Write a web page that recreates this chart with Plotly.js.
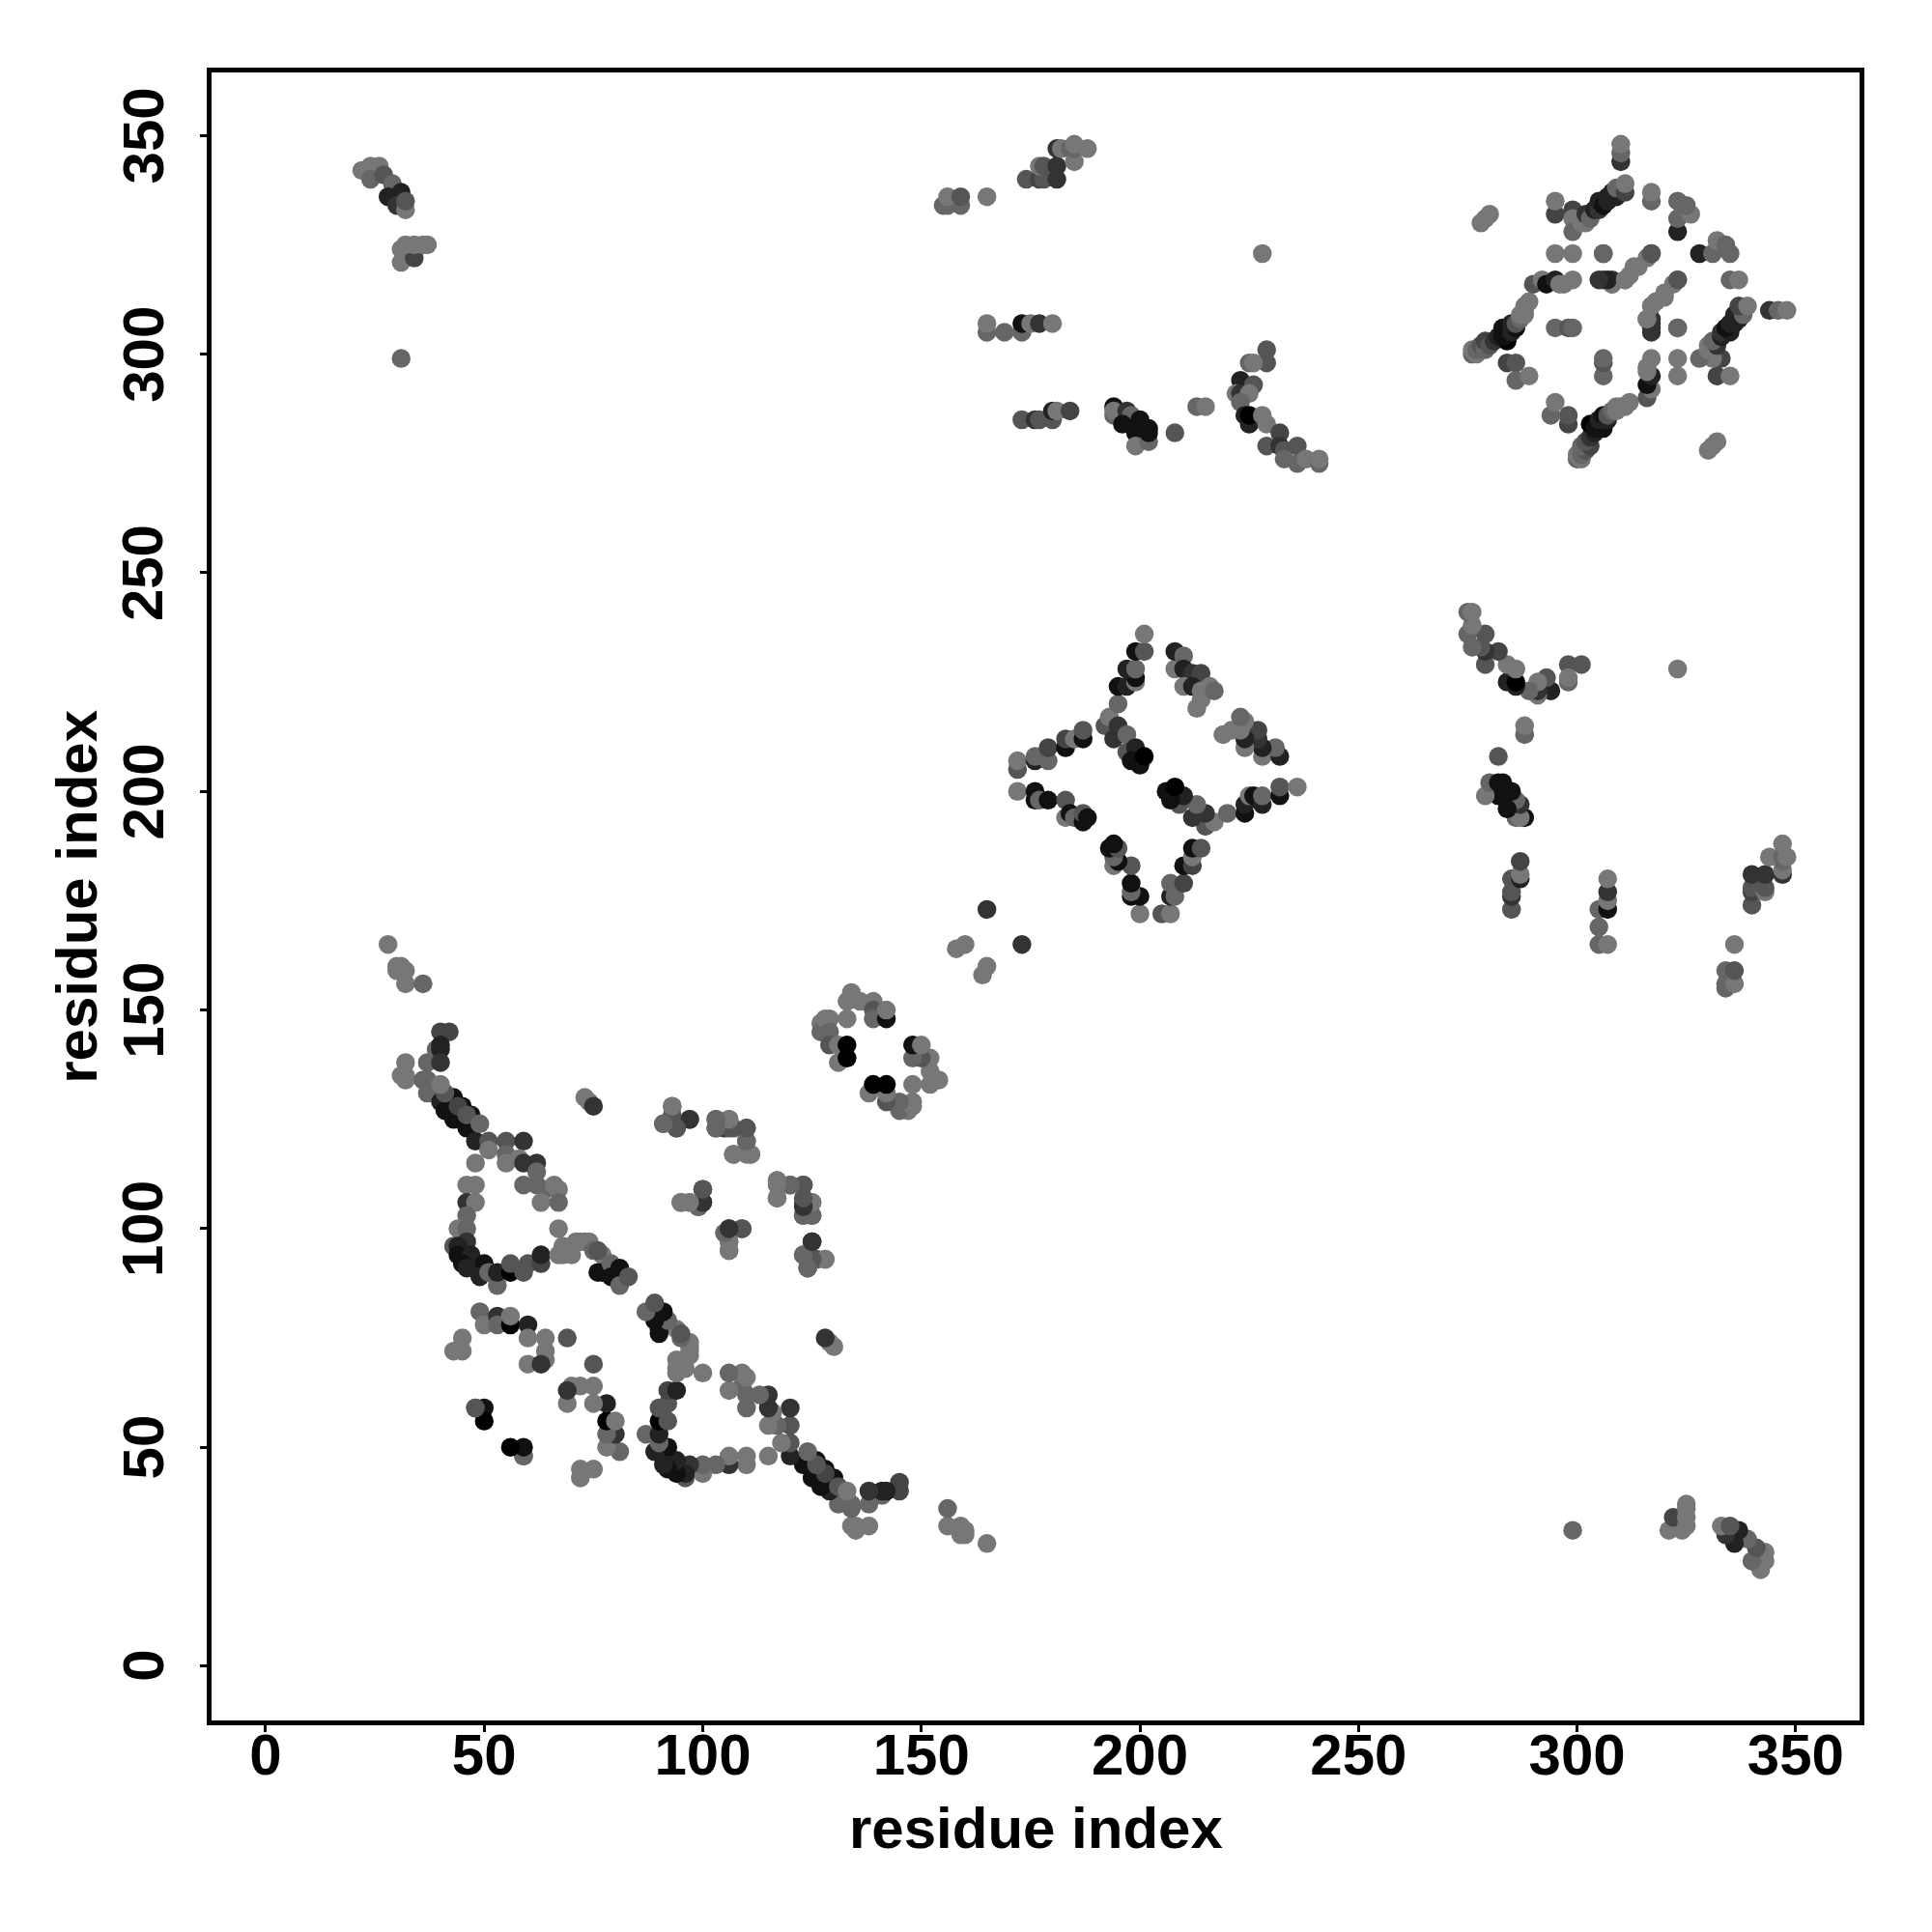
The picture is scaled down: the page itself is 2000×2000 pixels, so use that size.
<!DOCTYPE html>
<html><head><meta charset="utf-8">
<script src="https://cdn.plot.ly/plotly-3.0.1.min.js"></script>
<style>html,body{margin:0;padding:0;background:#fff}</style></head>
<body><div id="chart" style="width:2000px;height:2000px"></div>
<script>
// contacts as [residue i, residue j, grey shade]; the map is symmetric in i and j
const chainUpperA = [
[32,138,119],[32,135,119],[31,135,119],[32,134,119],[37,138,102],[36,134,102],[37,134,102],[37,131,102],
[39,141,102],[40,145,68],[42,145,68],[40,142,34],[40,141,34],[40,138,51],
[40,129,34],[41,127,17],[43,130,17],[43,125,17],[45,128,17],[46,123,17],[47,126,17],[48,120,34],
[41,131,85],[40,133,119],[44,128,68],[46,126,85],[49,124,102],[51,120,85],[51,118,119],[48,115,119],
[55,120,85],[55,117,102],[55,115,119],[59,120,51],[58,116,119],[59,115,51],[62,115,51],[62,113,102]
];
const clusterUpperB = [
[46,110,119],[48,110,119],[59,110,102],[62,110,102],[64,109,102],[66,110,119],[67,109,119],[63,106,119],[67,106,102],
[46,106,51],[48,106,119],[46,103,102],[44,100,119],[46,100,102],[67,100,119]
];
const loopUpperC = [
[43,96,85],[46,97,51],[44,96,34],[44,94,17],[47,94,34],[45,92,17],[46,91,34],[50,92,17],[49,89,34],[51,90,102],
[53,87,102],[53,90,34],[56,90,0],[56,92,85],[59,90,85],[60,92,85],[63,92,68],[63,94,34],
[67,94,119],[68,94,119],[69,95,119],[68,96,119],[70,94,119],[71,97,119],[72,97,119],[73,97,119],[74,97,119],
[75,95,102],[77,94,119],[76,95,85],[76,90,17],[77,90,17],[79,92,102],[79,89,17],[81,91,17],[81,89,17],[81,87,102],[83,89,85]
];
const clusterUpperD = [
[49,81,102],[50,78,119],[53,80,51],[53,78,102],[56,78,0],[56,80,119],[60,78,34],[60,75,119],[64,75,119],[69,75,85],
[45,75,119],[45,72,119],[43,72,119],[64,72,119],[64,70,119],[60,69,119],[63,69,51],[48,59,102],[50,59,17],[50,56,0],[59,48,85]
];
const scatterUpperE = [
[73,130,119],[74,129,119],[75,128,51],[93,128,119],[93,125,85],[91,124,102],[94,123,102],[97,125,51],
[103,125,102],[103,123,102],[106,125,119],[105,123,51],[107,123,85],[110,123,85],[110,120,102],[107,117,119],[110,117,119],[111,117,119],
[100,109,85],[95,106,119],[97,106,119],[99,105,102],[100,106,51],[105,99,102],[106,100,51],[109,100,85],[106,97,119],[106,95,119],
[117,111,119],[117,107,119],[120,110,102],[123,110,85],[123,106,85],[125,106,119],[123,103,102],[125,103,102],
[125,97,51],[123,94,85],[126,93,85],[128,93,119],[124,91,102]
];
const ringF = [
[127,147,119],[127,145,102],[128,145,102],[128,148,119],[129,148,119],[129,145,102],[129,142,85],[131,142,119],[133,142,0],[131,138,119],[133,139,0],
[133,148,119],[133,152,119],[134,154,119],[136,152,119],[139,152,119],[139,150,85],[139,148,102],[142,148,17],[142,150,119],
[28,165,119],[30,159,119],[30,160,119],[32,159,119],[31,160,119],[32,156,119],[36,156,102],[158,164,119],[160,165,119],[165,173,51]
];
const diamondG = [
[172,205,85],[172,207,119],[176,207,34],[176,208,102],[179,207,102],[179,210,68],[183,210,17],[183,212,68],[185,212,119],[187,212,17],[187,214,85],
[172,200,119],[176,198,17],[176,200,17],[177,198,102],[179,198,17],[183,194,119],[183,198,85],[184,195,17],[185,194,102],[187,193,17],[187,195,85],[188,194,17],
[192,215,85],[193,217,119],[195,215,51],[194,212,51],[197,213,102],[197,209,85],[199,210,34],[198,207,17],[200,206,17],[201,208,0],
[195,220,102],[195,224,17],[197,224,34],[199,225,119],[199,226,17],[197,228,34],[199,228,102],[199,232,17],[201,232,85],[201,236,119],
[208,228,119],[208,232,34],[210,231,102],[210,228,34],[212,227,51],[214,227,68],[210,224,119],[212,224,34],[213,219,119],[214,221,119],[214,223,119],[216,224,119],[217,223,102]
];
const bridgeH = [
[174,340,85],[177,340,68],[178,340,85],[181,340,51],[177,343,119],[178,343,85],[181,343,51],[181,347,51],[182,347,119],[184,347,102],[185,344,119],[185,347,102],[185,348,119],[188,347,119],
[155,334,102],[156,334,102],[159,334,102],[156,336,119],[159,336,85],[165,336,119],[228,323,119],
[165,305,102],[165,307,119],[169,305,102],[173,305,102],[173,307,17],[175,307,119],[177,307,51],[180,307,119],
[173,285,85],[176,285,51],[177,285,85],[180,285,85],[180,287,34],[181,287,119],[184,287,68],
[194,286,102],[194,288,17],[194,287,119],[197,287,51],[198,286,102],[196,284,17],[200,285,17],[199,282,17],[199,279,119],[202,280,102],[202,283,17],[202,282,17],
[208,282,85],[213,288,102],[215,288,119],
[229,301,85],[229,298,85],[225,298,102],[226,298,119],[223,294,34],[226,293,85],[222,291,119],[223,291,51],[225,291,119],[223,289,102],
[224,286,34],[225,284,34],[225,286,0],[228,286,119],[229,284,119],[232,282,68],[229,279,85],[232,279,51],[233,278,85],[233,276,102],[236,279,85],[236,275,102],[238,276,119],[241,275,102],[241,276,119]
];
const diamondJ = [
[276,300,102],[276,301,119],[277,300,119],[277,301,102],[278,302,85],[279,301,102],[279,303,68],[280,302,85],[281,303,51],[282,304,34],[284,303,0],[283,304,17],[283,306,17],[284,305,17],[285,305,34],[286,306,17],[285,307,34],[286,307,85],[287,308,102],[287,309,119],[288,309,119],[288,310,119],[288,311,119],[289,312,119],
[284,298,68],[286,298,85],[286,294,102],[289,295,119],[295,306,102],[298,306,85],[299,306,102],
[290,316,85],[292,317,119],[293,316,17],[295,317,34],[296,316,119],[297,316,119],[299,317,119],
[278,330,119],[279,331,119],[280,332,119],[295,323,119],[299,323,119],[306,323,102],[306,317,51],[308,317,51],[308,316,119],
[311,317,119],[313,320,119],[316,322,119],[317,323,85],[316,308,119],[317,307,34],[317,305,51],[317,311,119],[318,312,119],[320,314,119],[323,317,85],[323,306,102],
[295,332,68],[295,335,119],[299,333,68],[299,331,119],[299,328,102],[301,330,119],[302,330,119],[302,332,51],[303,331,102],[304,333,34],[305,333,51],[305,335,34],[306,334,17],[307,335,34],[307,336,34],[308,337,34],[309,336,34],[309,338,102],
[311,337,68],[311,339,119],[310,344,51],[310,346,102],[310,348,119],[317,335,102],[317,337,119],
[323,328,34],[323,331,102],[323,335,102],[326,332,119],[325,334,102]
];
const cornerK = [
[22,342,119],[24,343,119],[26,343,119],[24,340,102],[27,341,85],[29,339,102],[28,336,34],[31,337,34],[30,334,51],[32,333,119],[32,335,85],
[31,321,119],[31,324,119],[34,322,68],[32,325,119],[34,325,119],[36,325,119],[37,325,119],[31,299,102]
];
const tickValues = [0,50,100,150,200,250,300,350];
const axisTitleText = 'residue index';

const contacts = [].concat(chainUpperA, clusterUpperB, loopUpperC, clusterUpperD, scatterUpperE, ringF, diamondG, bridgeH, diamondJ, cornerK);
const xs = contacts.map(c=>c[0]).concat(contacts.map(c=>c[1]));
const ys = contacts.map(c=>c[1]).concat(contacts.map(c=>c[0]));
const shades = contacts.map(c=>c[2]).concat(contacts.map(c=>c[2]));

const FONT = 'Liberation Sans, Arial, sans-serif';
const textFont = {family:FONT,size:60,color:'#000',weight:700};
const axisBase = {
  showgrid:false, zeroline:false, showline:true, mirror:true, linecolor:'#000', linewidth:5,
  ticks:'outside', ticklen:7, tickwidth:3, tickcolor:'#000', tickmode:'array', tickvals:tickValues
};
const yLabels = tickValues.map(v=>({xref:'paper',yref:'y',x:-0.0415,y:v,text:String(v),textangle:-90,showarrow:false,xanchor:'center',yanchor:'middle',font:textFont}));
const yTitle = {xref:'paper',yref:'paper',x:-0.0822,y:0.5,text:axisTitleText,textangle:-90,showarrow:false,xanchor:'center',yanchor:'middle',font:textFont};
const xTitle = {xref:'paper',yref:'paper',x:0.5,y:-0.0654,text:axisTitleText,showarrow:false,xanchor:'center',yanchor:'middle',font:textFont};
Plotly.newPlot('chart',[{
  type:'scatter', mode:'markers', x:xs, y:ys, hoverinfo:'skip',
  marker:{size:19.5, color:shades, cmin:0, cmax:127, colorscale:[[0,'rgb(0,0,0)'],[1,'rgb(127,127,127)']], showscale:false, line:{width:0}}
}],{
  width:2000,height:2000,showlegend:false,paper_bgcolor:'#fff',plot_bgcolor:'#fff',
  margin:{l:219,r:74.5,t:74.5,b:218.5,pad:0,autoexpand:false},
  xaxis:Object.assign({},axisBase,{range:[-12.37,364.62],tickfont:textFont,ticktext:tickValues.map(String),ticklabelstandoff:-28}),
  yaxis:Object.assign({},axisBase,{range:[-12.47,364.42],showticklabels:false}),
  annotations:yLabels.concat([yTitle,xTitle])
},{displayModeBar:false,staticPlot:true});
</script></body></html>
